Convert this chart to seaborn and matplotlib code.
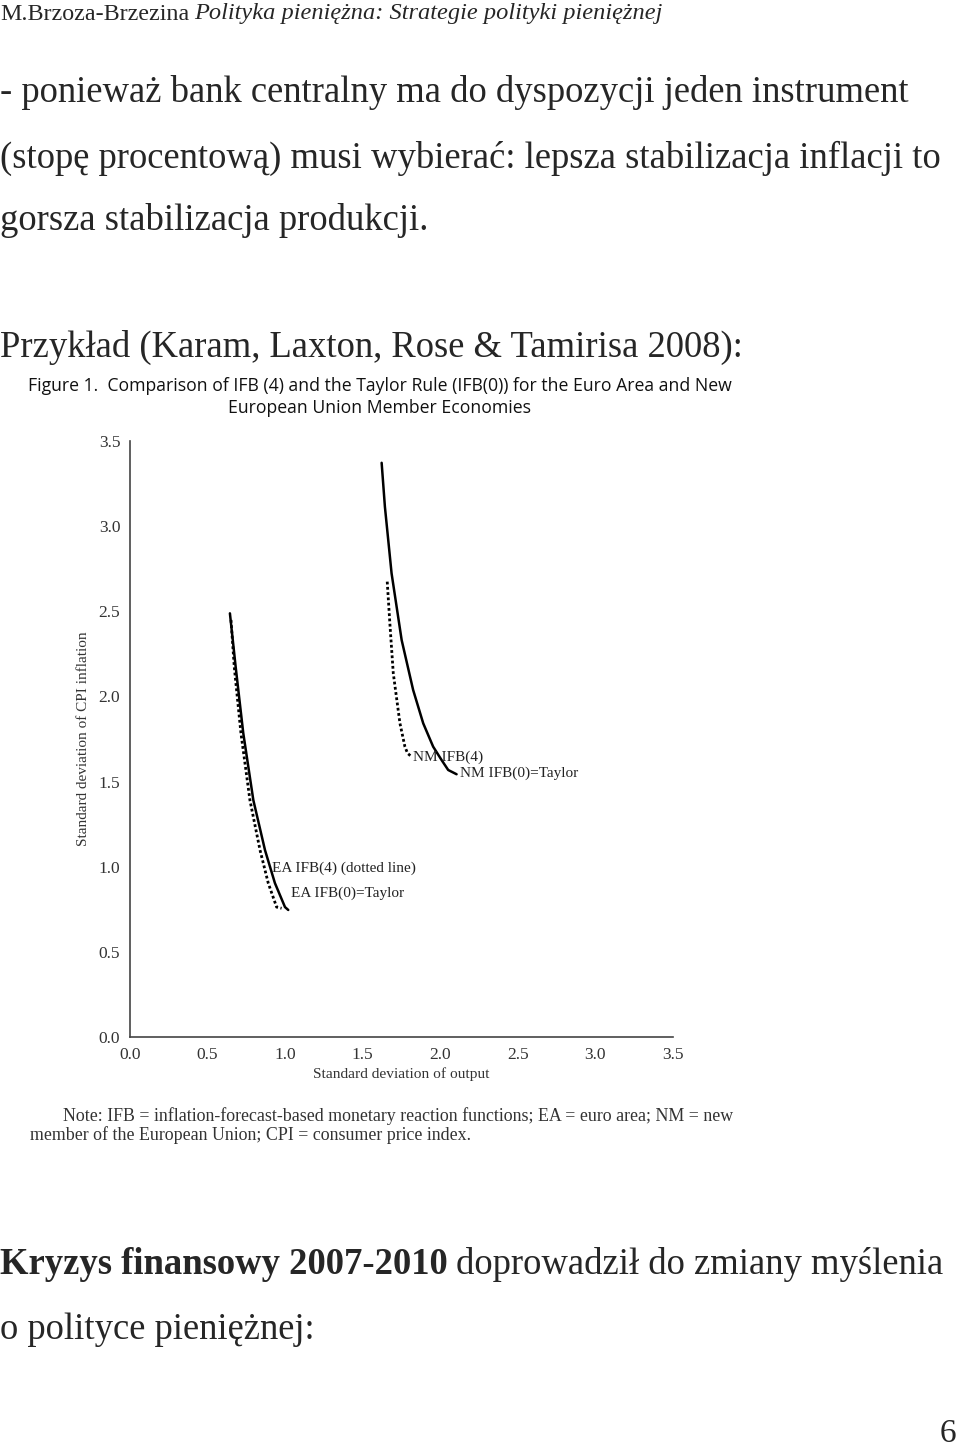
import matplotlib
matplotlib.use("Agg")
import matplotlib.pyplot as plt
import seaborn as sns
import pandas as pd

# ---- data ----
ea_taylor_x = [0.644, 0.681, 0.730, 0.795, 0.870, 0.934, 0.999, 1.020]
ea_taylor_y = [2.488, 2.174, 1.785, 1.391, 1.098, 0.904, 0.763, 0.746]
ea_ifb4_x = [0.651, 0.672, 0.715, 0.773, 0.838, 0.891, 0.945, 0.977]
ea_ifb4_y = [2.449, 2.174, 1.785, 1.391, 1.098, 0.904, 0.763, 0.756]
nm_taylor_x = [1.622, 1.643, 1.686, 1.751, 1.825, 1.890, 1.954, 2.008, 2.051, 2.105]
nm_taylor_y = [3.372, 3.114, 2.723, 2.331, 2.038, 1.842, 1.705, 1.627, 1.568, 1.543]
nm_ifb4_x = [1.658, 1.675, 1.697, 1.740, 1.772, 1.789, 1.815]
nm_ifb4_y = [2.674, 2.429, 2.136, 1.842, 1.705, 1.666, 1.646]
ticks = [0.0, 0.5, 1.0, 1.5, 2.0, 2.5, 3.0, 3.5]
tick_labels = ["0.0", "0.5", "1.0", "1.5", "2.0", "2.5", "3.0", "3.5"]

sns.set_style("white")
plt.rcParams["font.family"] = ["Liberation Serif", "DejaVu Serif"]

W, H = 960, 1454
fig = plt.figure(figsize=(W / 100, H / 100), dpi=100)
renderer = fig.canvas.get_renderer()

def ftxt(x, y, s, **kw):
    return fig.text(x / W, 1 - y / H, s, **kw)

def after(t, y, s, gap=6, **kw):
    bb = t.get_window_extent(renderer=renderer)
    return fig.text((bb.x1 + gap) / W, 1 - y / H, s, **kw)

serif = ["Liberation Serif", "DejaVu Serif"]
t = ftxt(0, 14, "M.Brzoza-Brzezina", fontsize=17.3, va="center", ha="left", family=serif)
after(t, 14, "Polityka pieniężna: Strategie polityki pieniężnej", gap=5, fontsize=17.6,
      va="center", ha="left", style="italic", family=serif)

body = 26.4
ftxt(0, 93, "- ponieważ bank centralny ma do dyspozycji jeden instrument", fontsize=body, va="center")
ftxt(0, 158, "(stopę procentową) musi wybierać: lepsza stabilizacja inflacji to", fontsize=body, va="center")
ftxt(0, 220, "gorsza stabilizacja produkcji.", fontsize=body, va="center")
ftxt(0, 347, "Przykład (Karam, Laxton, Rose & Tamirisa 2008):", fontsize=body, va="center")

sansf = ["Open Sans", "DejaVu Sans"]
ftxt(380, 386, "Figure 1.  Comparison of IFB (4) and the Taylor Rule (IFB(0)) for the Euro Area and New",
     fontsize=12.7, ha="center", va="center", family=sansf, color="#111111")
ftxt(380, 408, "European Union Member Economies", fontsize=12.7, ha="center", va="center",
     family=sansf, color="#111111")

ftxt(63, 1116, "Note: IFB = inflation-forecast-based monetary reaction functions; EA = euro area; NM = new",
     fontsize=12.85, va="center", color="#333333")
ftxt(30, 1135, "member of the European Union; CPI = consumer price index.",
     fontsize=12.85, va="center", color="#333333")

t = ftxt(0, 1265, "Kryzys finansowy 2007-2010", fontsize=body, va="center", weight="bold")
after(t, 1265, "doprowadził do zmiany myślenia", gap=8, fontsize=body, va="center")
ftxt(0, 1330, "o polityce pieniężnej:", fontsize=body, va="center")
ftxt(956, 1434, "6", fontsize=24, va="center", ha="right")

# ---- axes ----
left, right, top, bottom = 130, 673, 441, 1037
ax = fig.add_axes([left / W, 1 - bottom / H, (right - left) / W, (bottom - top) / H])

df = pd.concat([
    pd.DataFrame({"x": ea_taylor_x, "y": ea_taylor_y, "s": "EA Taylor"}),
    pd.DataFrame({"x": ea_ifb4_x, "y": ea_ifb4_y, "s": "EA IFB4"}),
    pd.DataFrame({"x": nm_taylor_x, "y": nm_taylor_y, "s": "NM Taylor"}),
    pd.DataFrame({"x": nm_ifb4_x, "y": nm_ifb4_y, "s": "NM IFB4"}),
])
for name, ls, lw in [("EA Taylor", "-", 1.8), ("NM Taylor", "-", 1.8),
                     ("EA IFB4", (0, (1, 0.9)), 2.0), ("NM IFB4", (0, (1, 0.9)), 2.0)]:
    sub = df[df["s"] == name]
    sns.lineplot(data=sub, x="x", y="y", sort=False, estimator=None, ax=ax,
                 color="black", linewidth=lw, linestyle=ls)

ax.set_xlim(0, 3.5)
ax.set_ylim(0, 3.5)
ax.set_xticks(ticks)
ax.set_xticklabels(tick_labels)
ax.set_yticks(ticks)
ax.set_yticklabels(tick_labels)
for sp in ["top", "right"]:
    ax.spines[sp].set_visible(False)
for sp in ["left", "bottom"]:
    ax.spines[sp].set_color("#444444")
    ax.spines[sp].set_linewidth(1.2)
ax.tick_params(direction="in", length=4, width=1, color="#444444",
               labelsize=12.5, labelcolor="#333333")
ax.tick_params(axis="y", pad=7)
ax.tick_params(axis="x", pad=7)
ax.set_xlabel("Standard deviation of output", fontsize=11.1, color="#333333", labelpad=3)
ax.set_ylabel("Standard deviation of CPI inflation", fontsize=11, color="#333333", labelpad=6)
ax.set_facecolor("white")

lab = dict(fontsize=11, color="#222222", va="center", ha="left")
ax.text(1.823, 1.644, "NM IFB(4)", **lab)
ax.text(2.126, 1.55, "NM IFB(0)=Taylor", **lab)
ax.text(0.915, 0.99, "EA IFB(4) (dotted line)", **lab)
ax.text(1.037, 0.845, "EA IFB(0)=Taylor", **lab)

fig.savefig("out.png", dpi=100, facecolor="white")
